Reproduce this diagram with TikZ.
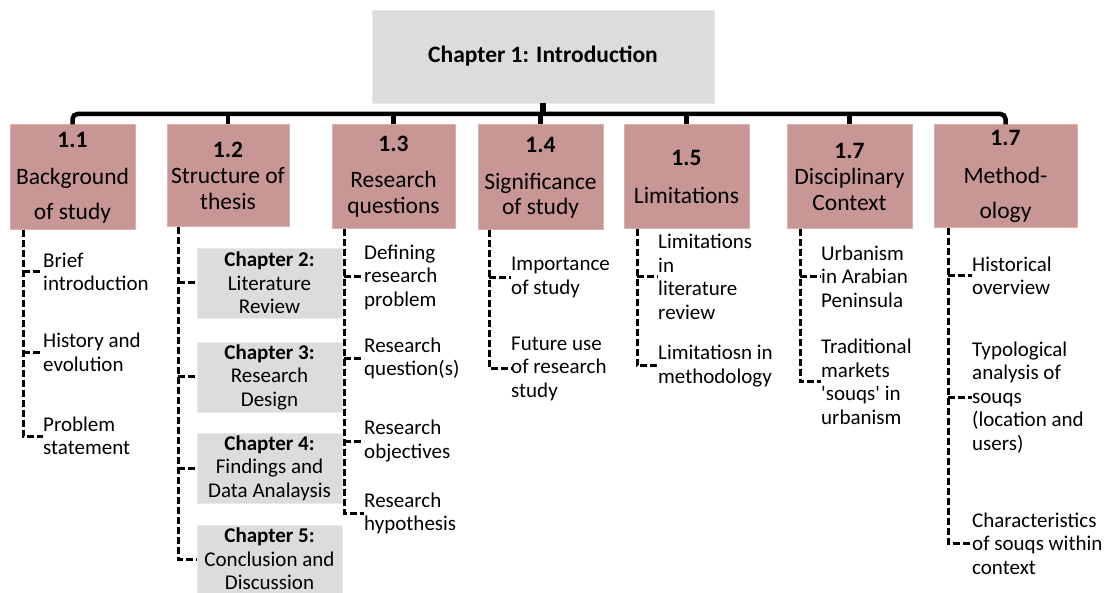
\documentclass[tikz,border=0pt]{standalone}
\usepackage{fontspec}
\setmainfont{Carlito}
\definecolor{pinkfill}{RGB}{201,150,150}
\definecolor{greyfill}{RGB}{220,220,220}
\begin{document}
\begin{tikzpicture}[x=1pt,y=-1pt,
 hbox/.style={rectangle, fill=pinkfill, draw=pinkfill!75!white, line width=1pt, align=center, inner sep=0pt, font=\fontsize{23.5}{26}\selectfont},
 cbox/.style={rectangle, fill=greyfill, draw=greyfill!60!white, line width=0.8pt, align=center, inner sep=0pt, minimum width=145pt, minimum height=70pt, font=\fontsize{21}{23.5}\selectfont},
 txt/.style={anchor=west, inner sep=0pt, align=left, font=\fontsize{21}{23.5}\selectfont},
 bar/.style={line width=4.5pt, black},
 dl/.style={line width=3pt, dash pattern=on 7pt off 3pt}]
\useasboundingbox (0,0) rectangle (1111,593);

% title
\node[rectangle, fill=greyfill, draw=greyfill!60!white, line width=0.8pt, minimum width=342pt, minimum height=93pt, inner sep=0pt, font=\fontsize{23.5}{26}\selectfont\bfseries] (title) at (543,56.5) {Chapter 1: Introduction};

% section boxes
\node[hbox, minimum width=125pt, minimum height=105pt] (h1) at (72.5,177.5) {\textbf{1.1}\\[11pt]Background\\[9pt]of study};
\node[hbox, minimum width=122pt, minimum height=102pt] (h2) at (228,176) {\textbf{1.2}\\Structure of\\thesis};
\node[hbox, minimum width=123pt, minimum height=104pt] (h3) at (393.5,177) {\textbf{1.3}\\[10pt]Research\\questions};
\node[hbox, minimum width=125pt, minimum height=105pt] (h4) at (540.5,177.5) {\textbf{1.4}\\[11pt]Significance\\[-1pt]of study};
\node[hbox, minimum width=125pt, minimum height=104pt] (h5) at (686.5,177) {\textbf{1.5}\\[12pt]Limitations};
\node[hbox, minimum width=125pt, minimum height=104pt] (h6) at (849.5,177) {\textbf{1.7}\\Disciplinary\\Context};
\node[hbox, minimum width=143pt, minimum height=103pt] (h7) at (1005.5,176.5) {\textbf{1.7}\\[12pt]Method-\\[9pt]ology};

% top bar
\coordinate (bary) at (543,114);
\draw[bar, rounded corners=5pt] (h1.north) |- (bary) -| (h7.north);
\foreach \h in {h2,h3,h4,h5,h6} \draw[bar] (\h.north) -- (\h.north |- bary);
\draw[line width=6pt] (title.south) -- (bary);

% column 1
\node[txt] (b11) at (43,272) {Brief\\introduction};
\node[txt] (b12) at (43,352.5) {History and\\evolution};
\node[txt] (b13) at (43,436) {Problem\\statement};
\coordinate (t1) at (23,230);
\draw[dl] (t1) |- (b13.west);
\draw[dl] (t1 |- b11.west) -- (b11.west);
\draw[dl] (t1 |- b12.west) -- (b12.west);

% column 2
\node[cbox] (c2) at (269.5,283) {\textbf{Chapter 2:}\\Literature\\Review};
\node[cbox] (c3) at (269.5,377) {\textbf{Chapter 3:}\\Research\\Design};
\node[cbox] (c4) at (269.5,468) {\textbf{Chapter 4:}\\Findings and\\Data Analaysis};
\node[cbox, minimum height=68pt] (c5) at (269.5,559) {\textbf{Chapter 5:}\\Conclusion and\\Discussion};
\coordinate (t2) at (178,227);
\draw[dl] (t2) |- (c5.west);
\foreach \c in {c2,c3,c4} \draw[dl] (t2 |- \c.west) -- (\c.west);

% column 3
\node[txt] (b31) at (364,277) {Defining\\research\\problem};
\node[txt] (b32) at (364,358.5) {Research\\question(s)};
\node[txt] (b33) at (364,441) {Research\\objectives};
\node[txt] (b34) at (364,513.5) {Research\\hypothesis};
\coordinate (t3) at (344,229);
\draw[dl] (t3) |- (b34.west);
\foreach \b in {b31,b32,b33} \draw[dl] (t3 |- \b.west) -- (\b.west);

% column 4
\node[txt] (b41) at (511,277.5) {Importance\\of study};
\node[txt] (b42) at (511,368.5) {Future use\\of research\\study};
\coordinate (t4) at (489,230);
\draw[dl] (t4) |- (b42.west);
\draw[dl] (t4 |- b41.west) -- (b41.west);

% column 5
\node[txt] (b51) at (658,277) {Limitations\\in\\literature\\review};
\node[txt] (b52) at (658,366) {Limitatiosn in\\methodology};
\coordinate (t5) at (637,229);
\draw[dl] (t5) |- (b52.west);
\draw[dl] (t5 |- b51.west) -- (b51.west);

% column 6
\node[txt] (b61) at (821,276.5) {Urbanism\\in Arabian\\Peninsula};
\node[txt] (b62) at (821,382) {Traditional\\markets\\\textquotesingle souqs\textquotesingle{} in\\urbanism};
\coordinate (t6) at (800,229);
\draw[dl] (t6) |- (b62.west);
\draw[dl] (t6 |- b61.west) -- (b61.west);

% column 7
\node[txt] (b71) at (972,276) {Historical\\overview};
\node[txt] (b72) at (972,397.5) {Typological\\analysis of\\souqs\\(location and\\users)};
\node[txt] (b73) at (972,543.5) {Characteristics\\of souqs within\\context};
\coordinate (t7) at (948,228);
\draw[dl] (t7) |- (b73.west);
\foreach \b in {b71,b72} \draw[dl] (t7 |- \b.west) -- (\b.west);
\end{tikzpicture}
\end{document}
